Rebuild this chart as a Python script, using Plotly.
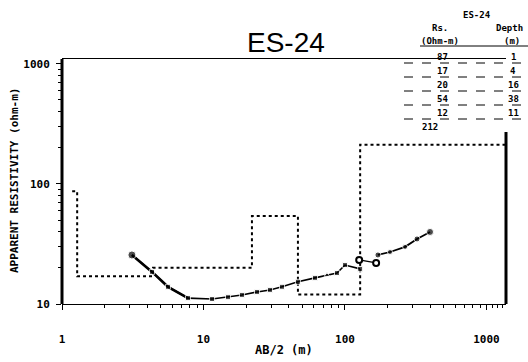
import numpy as np
import plotly.graph_objects as go

# ---- field sounding ES-24: apparent resistivity vs AB/2 ----
ab2_main = [3.12, 4.33, 5.61, 7.77, 11.5, 14.9, 18.7, 23.9, 29.5, 35.9, 46.5, 61.4, 74.6, 87.8, 100, 128]
rho_main = [25.6, 18.5, 13.9, 11.2, 11.0, 11.4, 11.9, 12.6, 13.1, 13.9, 15.3, 16.5, 17.4, 18.1, 21.1, 19.6]
ab2_overlap = [126, 166]
rho_overlap = [23.3, 22.0]
ab2_long = [171, 208, 266, 323, 399]
rho_long = [25.6, 27.1, 29.9, 34.8, 39.8]

# ---- interpreted layer model (table values) ----
layer_rho = [87, 17, 20, 54, 12, 212]
layer_depth_txt = ["1", "4", "16", "38", "11"]
# AB/2 positions where the model steps are drawn
step_ab2 = [1.28, 4.40, 22.0, 46.5, 128]
model_start = 1.18

x_tick_vals = [1, 10, 100, 1000]
x_tick_text = ["1", "10", "100", "1000"]
y_tick_vals = [10, 100, 1000]
y_tick_text = ["10", "100", "1000"]

W, H = 528, 362
L, R, T, B = 62, 22, 59, 58
PW, PH = W - L - R, H - T - B
X_RANGE = [0, 3.138]
Y_RANGE = [1, 3.04]


def px(xp):
    return (xp - L) / PW


def py(yp):
    return (H - B - yp) / PH


# step polyline for the layer model
mx = [model_start]
my = [layer_rho[0]]
for i, b in enumerate(step_ab2):
    mx += [b, b]
    my += [layer_rho[i], layer_rho[i + 1]]
mx.append(10 ** X_RANGE[1])
my.append(layer_rho[-1])

mono = "DejaVu Sans Mono"
fig = go.Figure()

fig.add_trace(go.Scatter(x=mx, y=my, mode="lines",
                         line=dict(color="black", width=2, dash="dot"),
                         hoverinfo="skip", showlegend=False))

# early part of the curve drawn heavier
fig.add_trace(go.Scatter(x=ab2_main[:4], y=rho_main[:4], mode="lines",
                         line=dict(color="black", width=2.6),
                         hoverinfo="skip", showlegend=False))
fig.add_trace(go.Scatter(x=ab2_main, y=rho_main, mode="lines+markers",
                         line=dict(color="black", width=1.6),
                         marker=dict(color="black", size=[8] + [5] * (len(ab2_main) - 1),
                                     symbol=["circle"] + ["square"] * 11 + ["triangle-up"] + ["square"] * 3),
                         showlegend=False))
fig.add_trace(go.Scatter(x=ab2_overlap, y=rho_overlap, mode="lines+markers",
                         line=dict(color="black", width=1.5),
                         marker=dict(color="white", size=6, symbol="circle",
                                     line=dict(color="black", width=2)),
                         showlegend=False))
fig.add_trace(go.Scatter(x=ab2_long, y=rho_long, mode="lines+markers",
                         line=dict(color="black", width=1.8),
                         marker=dict(color="black", size=[6, 5, 5, 6, 7], symbol="circle"),
                         showlegend=False))

minor_x = [m * 10 ** d for d in range(0, 3) for m in range(2, 10)] + [1100, 1200, 1300]
minor_y = [m * 10 ** d for d in range(1, 3) for m in range(2, 10)]

tick_font = dict(family=mono, size=11, color="black", weight="bold")

fig.update_xaxes(type="log", range=X_RANGE, showgrid=False, zeroline=False,
                 showline=True, linecolor="black", linewidth=1, mirror=True,
                 tickmode="array", tickvals=x_tick_vals, ticktext=x_tick_text,
                 ticks="outside", ticklen=5, tickwidth=1, tickcolor="black",
                 ticklabelstandoff=20, tickfont=tick_font,
                 minor=dict(tickvals=minor_x, ticks="outside", ticklen=3,
                            tickcolor="black", showgrid=False))
fig.update_yaxes(type="log", range=Y_RANGE, showgrid=False, zeroline=False,
                 showline=False,
                 tickmode="array", tickvals=y_tick_vals, ticktext=y_tick_text,
                 ticks="outside", ticklen=5, tickwidth=1, tickcolor="black",
                 ticklabelstandoff=4, tickfont=tick_font,
                 minor=dict(tickvals=minor_y, ticks="outside", ticklen=3,
                            tickcolor="black", showgrid=False))

shapes = [
    # heavy left and right frame edges
    dict(type="line", xref="paper", yref="paper", x0=0, x1=0, y0=0, y1=1,
         line=dict(color="black", width=3)),
    dict(type="line", xref="paper", yref="paper", x0=1, x1=1, y0=0, y1=py(132),
         line=dict(color="black", width=3)),
    # table rules
    dict(type="line", xref="paper", yref="paper", x0=px(420), x1=px(528), y0=py(46), y1=py(46),
         line=dict(color="black", width=1)),
]
for yy in [63, 77, 91, 105, 119]:
    shapes.append(dict(type="line", xref="paper", yref="paper", x0=px(404), x1=px(528),
                       y0=py(yy), y1=py(yy), line=dict(color="black", width=1, dash="dash")))

anns = []


def txt(s, x, y, size=9, **kw):
    anns.append(dict(text=s, x=px(x), y=py(y), xref="paper", yref="paper",
                     showarrow=False, xanchor="center", yanchor="middle",
                     font=dict(family=mono, size=size, color="black", weight="bold"), **kw))


txt("ES-24", 477, 15)
txt("Rs.", 440, 28)
txt("Depth", 510, 28)
txt("(Ohm-m)", 440, 41)
txt("(m)", 512, 41)
row_y = [57, 71, 85, 99, 113]
for i, yy in enumerate(row_y):
    txt(str(layer_rho[i]), 442, yy)
    txt(layer_depth_txt[i], 513, yy)
txt(str(layer_rho[-1]), 430, 127)

txt("AB/2 (m)", 284, 350, size=12)
txt("APPARENT RESISTIVITY (ohm-m)", 14, 181, size=11, textangle=-90)

anns.append(dict(text="ES-24", x=px(286), y=py(42), xref="paper", yref="paper",
                 showarrow=False, xanchor="center", yanchor="middle",
                 font=dict(family="Liberation Sans", size=28, color="black")))

fig.update_layout(width=W, height=H, margin=dict(l=L, r=R, t=T, b=B),
                  paper_bgcolor="white", plot_bgcolor="white",
                  shapes=shapes, annotations=anns, showlegend=False)

fig.write_html("out.html")
